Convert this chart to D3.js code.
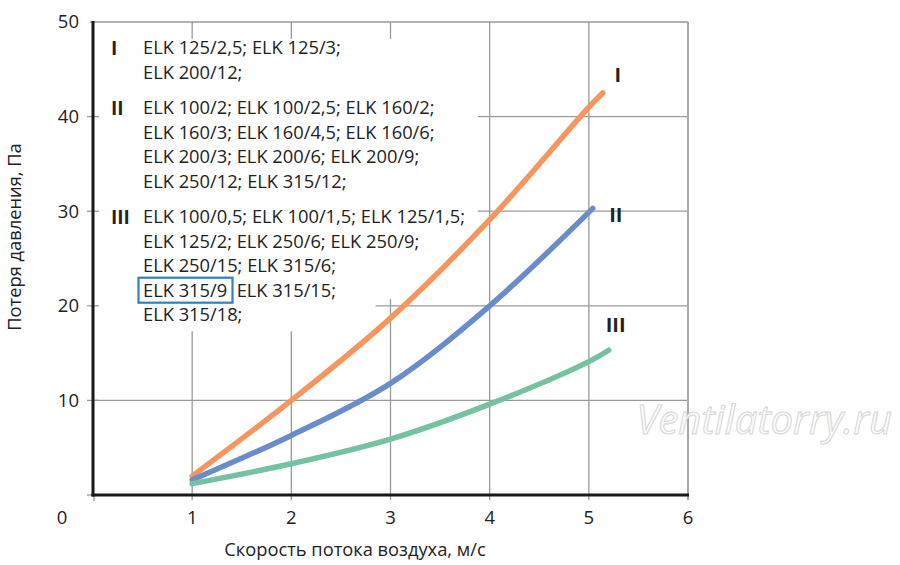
<!DOCTYPE html>
<html>
<head>
<meta charset="utf-8">
<script src="https://cdn.jsdelivr.net/npm/d3@7"></script>
<style>
  body { margin: 0; background: #fff; }
  svg { display: block; font-family: "Open Sans", "Noto Sans", sans-serif; }
</style>
</head>
<body>
<script>
// curve data: x = speed m/s, y = pressure loss Pa
const curveI   = [[1, 2.0], [2, 10.0], [3, 18.7], [4, 29.1], [5, 41.0], [5.14, 42.5]];
const curveII  = [[1, 1.6], [2, 6.3], [3, 11.8], [4, 20.0], [5.04, 30.3]];
const curveIII = [[1, 1.2], [2, 3.3], [3, 5.9], [4, 9.6], [5, 14.1], [5.2, 15.3]];

const seriesNames = ["I", "II", "III"];
const seriesColors = ["#f7955f", "#6b8cca", "#74c2a2"];

const xTicks = [1, 2, 3, 4, 5, 6];
const yTicks = [10, 20, 30, 40, 50];

// legend groups
const legendGroups = [
  { name: "I",   lines: ["ELK 125/2,5; ELK 125/3;", "ELK 200/12;"] },
  { name: "II",  lines: ["ELK 100/2; ELK 100/2,5; ELK 160/2;", "ELK 160/3; ELK 160/4,5; ELK 160/6;",
                         "ELK 200/3; ELK 200/6; ELK 200/9;", "ELK 250/12; ELK 315/12;"] },
  { name: "III", lines: ["ELK 100/0,5; ELK 100/1,5; ELK 125/1,5;", "ELK 125/2; ELK 250/6; ELK 250/9;",
                         "ELK 250/15; ELK 315/6;", "ELK 315/9 ELK 315/15;", "ELK 315/18;"] }
];

// grid lines are cut where the legend sits
const hGrid = [{ v: 10, from: 0 }, { v: 20, from: 2.85 }, { v: 30, from: 3.88 }, { v: 40, from: 3.88 }, { v: 50, from: -0.03 }];
const vGrid = [{ v: 1, to: 17.3 }, { v: 2, to: 17.3 }, { v: 3, to: 20.7 }, { v: 4, to: 50 }, { v: 5, to: 50 }, { v: 6, to: 50 }];

const W = 900, H = 565;
const svg = d3.select("body").append("svg").attr("width", W).attr("height", H);

const x = d3.scaleLinear().domain([0, 6]).range([93, 688]);
const y = d3.scaleLinear().domain([0, 50]).range([495, 22]);

const grid = svg.append("g").attr("stroke", "#9a9a9a").attr("stroke-width", 1.3);

grid.selectAll("line.h").data(hGrid).enter().append("line")
  .attr("x1", d => x(d.from)).attr("x2", x(6))
  .attr("y1", d => y(d.v)).attr("y2", d => y(d.v));

grid.selectAll("line.v").data(vGrid).enter().append("line")
  .attr("x1", d => x(d.v)).attr("x2", d => x(d.v))
  .attr("y1", y(0) + 5).attr("y2", d => y(d.to))
  .attr("stroke", d => d.v === 6 ? "#a8a8a8" : null)
  .attr("stroke-width", d => d.v === 6 ? 2 : null);

// short ticks at the top for the cut verticals
grid.selectAll("line.t").data(vGrid.filter(d => d.to < 50)).enter().append("line")
  .attr("x1", d => x(d.v)).attr("x2", d => x(d.v))
  .attr("y1", y(50)).attr("y2", y(48.2));

// y ticks left of axis
grid.selectAll("line.yt").data([0].concat(yTicks.slice(0, 4))).enter().append("line")
  .attr("x1", x(0) - 6).attr("x2", x(0) + 6)
  .attr("y1", d => y(d)).attr("y2", d => y(d));
grid.append("line").attr("x1", x(0) + 1).attr("x2", x(0) + 1).attr("y1", y(0)).attr("y2", y(0) + 6);

// axes
svg.append("line").attr("x1", x(0)).attr("x2", x(0)).attr("y1", y(50) - 1).attr("y2", y(0) + 1.5)
  .attr("stroke", "#1a1a1a").attr("stroke-width", 3);
svg.append("line").attr("x1", x(0) - 1.5).attr("x2", x(6) + 1).attr("y1", y(0)).attr("y2", y(0))
  .attr("stroke", "#1a1a1a").attr("stroke-width", 3);

// tick labels
const tickFont = 18.5;
svg.selectAll("text.yl").data(yTicks).enter().append("text")
  .attr("x", 79).attr("y", d => y(d)).attr("dy", "0.35em")
  .attr("text-anchor", "end").attr("font-size", tickFont).attr("fill", "#222")
  .text(d => d);
svg.append("text").attr("x", 62).attr("y", 518).attr("dy", "0.35em")
  .attr("text-anchor", "middle").attr("font-size", tickFont).attr("fill", "#222").text("0");
svg.selectAll("text.xl").data(xTicks).enter().append("text")
  .attr("x", d => x(d)).attr("y", 518).attr("dy", "0.35em")
  .attr("text-anchor", "middle").attr("font-size", tickFont).attr("fill", "#222")
  .text(d => d);

// axis titles
svg.append("text").attr("x", 355).attr("y", 550).attr("dy", "0.35em")
  .attr("text-anchor", "middle").attr("font-size", 18.3).attr("fill", "#222")
  .text("Скорость потока воздуха, м/с");
svg.append("text").attr("transform", "translate(15,237) rotate(-90)").attr("dy", "0.35em")
  .attr("text-anchor", "middle").attr("font-size", 18.3).attr("fill", "#222")
  .text("Потеря давления, Па");

// watermark
svg.append("text").attr("x", 892).attr("y", 420).attr("dy", "0.35em")
  .attr("text-anchor", "end").attr("font-size", 40).attr("font-style", "italic")
  .attr("fill", "#fbfbfb").attr("stroke", "#d6d6d6").attr("stroke-width", 1)
  .text("Ventilatorry.ru");

// curves
const line = d3.line().x(d => x(d[0])).y(d => y(d[1])).curve(d3.curveCatmullRom.alpha(0.5));
const curves = [curveI, curveII, curveIII];
svg.selectAll("path.curve").data(curves).enter().append("path")
  .attr("d", line).attr("fill", "none")
  .attr("stroke", (d, i) => seriesColors[i]).attr("stroke-width", 5.5)
  .attr("stroke-linecap", "round");

// curve names next to the ends
const nameOffsets = [[15, -18], [23, 7], [7, -25]];
svg.selectAll("text.cn").data(curves).enter().append("text")
  .attr("x", (d, i) => x(d[d.length - 1][0]) + nameOffsets[i][0])
  .attr("y", (d, i) => y(d[d.length - 1][1]) + nameOffsets[i][1])
  .attr("dy", "0.35em").attr("text-anchor", "middle")
  .attr("font-size", 20).attr("font-weight", "bold").attr("fill", "#222")
  .text((d, i) => seriesNames[i]);

// legend
const legend = svg.append("g").attr("font-size", 18.3).attr("fill", "#222");
const groupTops = [48, 108, 217];
const rowStep = 24.4;
legendGroups.forEach((g, gi) => {
  legend.append("text").attr("x", 111).attr("y", groupTops[gi]).attr("dy", "0.35em")
    .attr("font-weight", "bold").attr("font-size", 19).text(g.name);
  g.lines.forEach((t, li) => {
    legend.append("text").attr("x", 143).attr("y", groupTops[gi] + li * rowStep).attr("dy", "0.35em")
      .attr("xml:space", "preserve").text(t.replace("315/9 ", "315/9  "));
  });
});
// highlight box round ELK 315/9
legend.append("rect").attr("x", 138.5).attr("y", groupTops[2] + 3 * rowStep - 12.5)
  .attr("width", 94).attr("height", 25)
  .attr("fill", "none").attr("stroke", "#2f80c3").attr("stroke-width", 2.2);
</script>
</body>
</html>
